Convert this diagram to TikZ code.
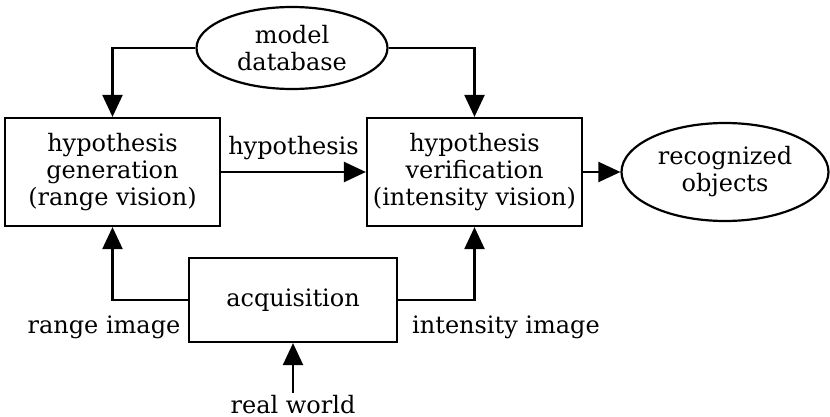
\documentclass[tikz,border=0pt]{standalone}
\usepackage{fontspec}
\setmainfont{DejaVu Serif}
\usetikzlibrary{positioning}
\usetikzlibrary{shapes.geometric}
\usetikzlibrary{arrows.meta}
\tikzset{blk/.style={draw, align=center, minimum width=107.5pt, minimum height=54pt, inner sep=1pt}}
\tikzset{oval/.style={draw, ellipse, align=center, inner sep=0pt}}
\tikzset{>={Triangle[length=11pt,width=10pt]}}

\begin{document}
\begin{tikzpicture}[x=0.5pt,y=-0.5pt,line width=1.1pt,
    font=\fontsize{12}{13.5}\selectfont]
    \useasboundingbox (0,0) rectangle (830,417);

    \node[oval, minimum width=95.5pt, minimum height=41pt] (db) at (292,48) {model\\database};
    \node[blk] (gen) at (112.5,172) {hypothesis\\generation\\(range vision)};
    \node[blk] (ver) at (474.5,172) {hypothesis\\verification\\(intensity vision)};
    \node[oval, minimum width=103.5pt, minimum height=49pt] (rec) at (725,172) {recognized\\objects};
    \node[blk, minimum width=104pt, minimum height=42pt] (acq) at (293,300) {acquisition};

    \node[inner sep=1pt] (rw) at (293,405) {real world};
    \node (rimg) at (104,327) {range image};
    \node (iimg) at (506,327) {intensity image};

    \draw[->] (db.west) -| (gen.north);
    \draw[->] (db.east) -| (ver.north);
    \draw[->] (gen) -- node[above=2pt] (hyp) {hypothesis} (ver);
    \draw[->] (ver) -- (rec);
    \draw[->] (acq.west) -| (gen.south);
    \draw[->] (acq.east) -| (ver.south);
    \draw[->] (rw) -- (acq);
\end{tikzpicture}
\end{document}
